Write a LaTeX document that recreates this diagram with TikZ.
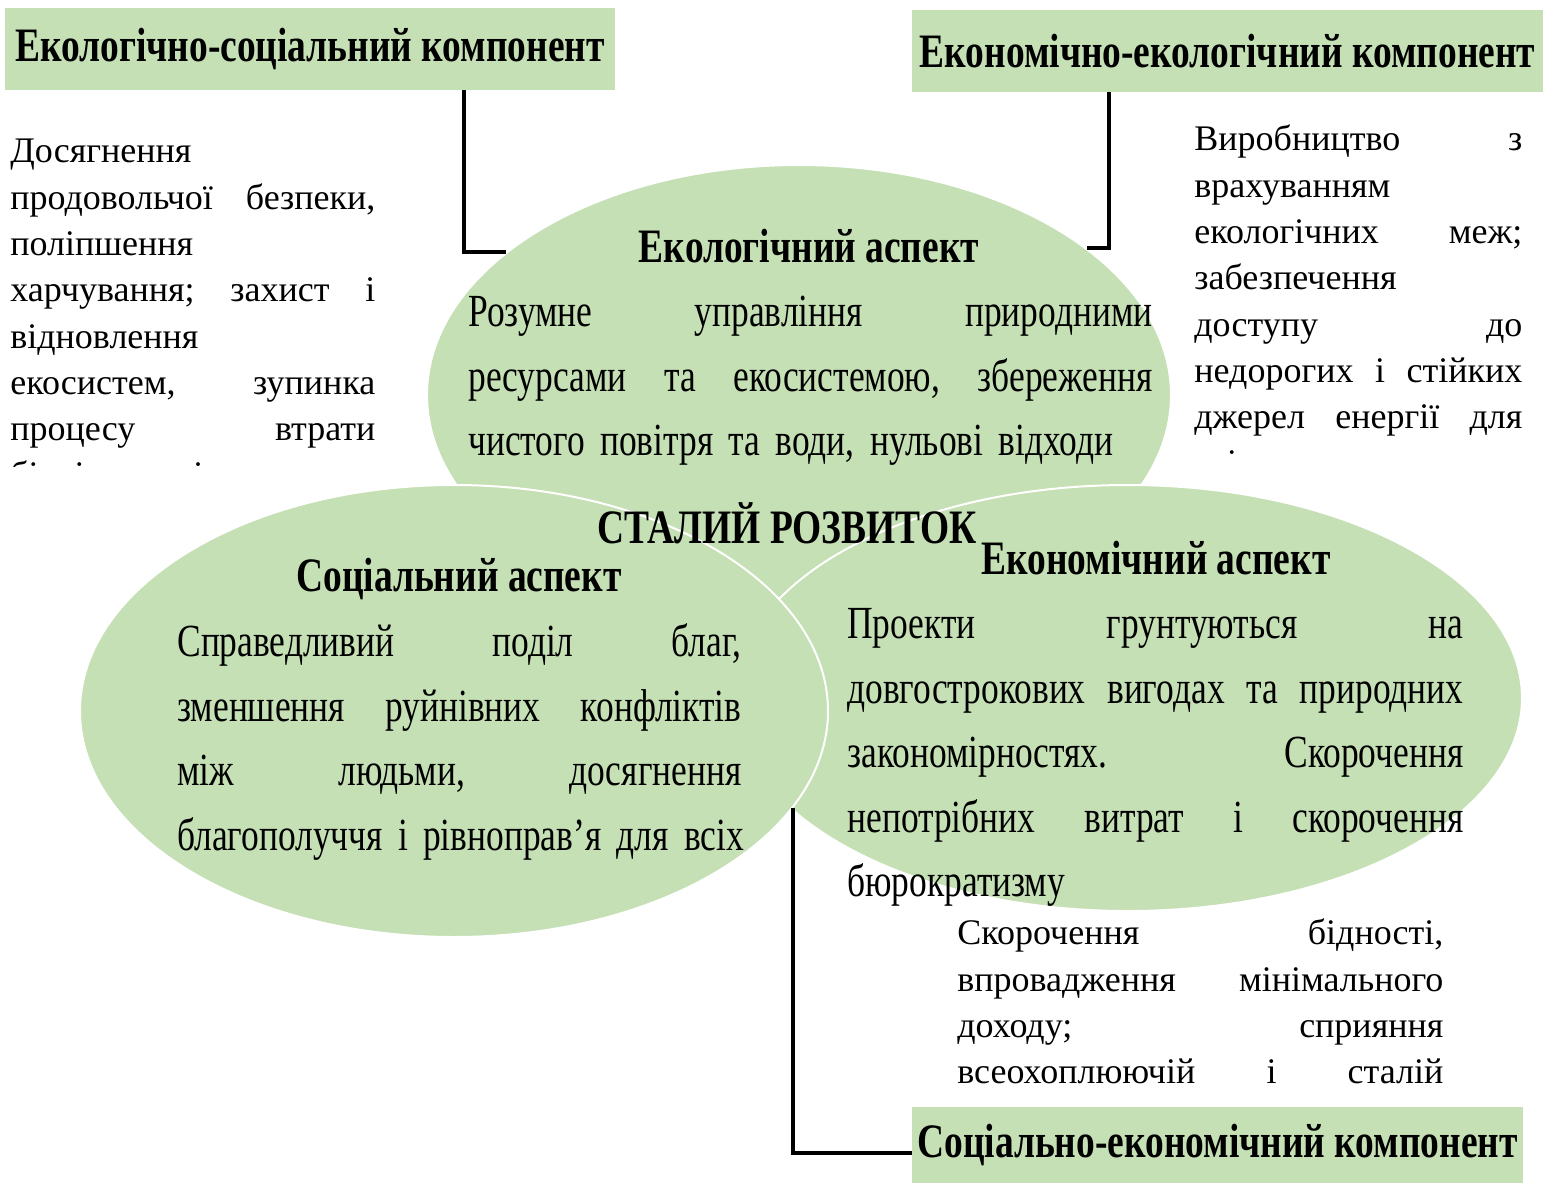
\documentclass[tikz,border=0pt]{standalone}
\usepackage{fontspec}
\setmainfont{Liberation Serif}
\newfontfamily\tallfont[FakeStretch=0.78]{Liberation Serif}
\newfontfamily\bodyfont[FakeStretch=0.77]{Liberation Serif}
\usepackage{tikz}
\usetikzlibrary{shapes.geometric,calc}
\definecolor{leafgreen}{HTML}{C5E0B4}

\begin{document}
\begin{tikzpicture}[
  x=0.5pt, y=-0.5pt,
  blob/.style={ellipse, fill=leafgreen, draw=white, line width=1pt, inner sep=0pt},
  tagbox/.style={fill=leafgreen, inner sep=0pt, font=\tallfont\bfseries\fontsize{24}{28}\selectfont},
  aspect/.style={anchor=base, inner sep=0pt, font=\tallfont\bfseries\fontsize{24}{28}\selectfont},
  body/.style={anchor=north west, inner sep=0pt, align=left, font=\bodyfont\fontsize{23}{32.25}\selectfont},
  note/.style={anchor=north west, inner sep=0pt, align=left, font=\fontsize{18}{23.15}\selectfont},
  link/.style={draw=black, line width=2pt}
]
  \useasboundingbox (0,0) rectangle (1543,1183);

  % Ellipses
  \node[blob, minimum width=372pt, minimum height=230pt] (ecol) at (799,395) {};
  \node[blob, minimum width=394pt, minimum height=213pt] (econ) at (1128,698) {};
  \node[blob, minimum width=374pt, minimum height=226pt] (soc) at (454,711) {};

  % Ellipse texts
  \node[aspect] (ecolhead) at (809,262) {Екологічний аспект};
  \node[body, text width=342pt] (ecoltext) at (468,281) {\strut Розумне \hfill управління \hfill природними\\
    ресурсами \hfill та \hfill екосистемою, \hfill збереження\\
    чистого повітря та води, нульові відходи};
  \node[aspect] (title) at (787,543) {СТАЛИЙ РОЗВИТОК};
  \node[aspect] (sochead) at (459,591) {Соціальний аспект};
  \node[body, text width=282pt] (soctext) at (177,611) {\strut Справедливий \hfill поділ \hfill благ,\\
    зменшення \hfill руйнівних \hfill конфліктів\\
    між \hfill людьми, \hfill досягнення\\
    \makebox[\linewidth][s]{благополуччя і рівноправ’я для всіх}};
  \node[aspect] (econhead) at (1156,574) {Економічний аспект};
  \node[body, text width=308pt] (econtext) at (847,593) {\strut Проекти \hfill грунтуються \hfill на\\
    довгострокових \hfill вигодах \hfill та \hfill природних\\
    закономірностях. \hfill Скорочення\\
    непотрібних \hfill витрат \hfill і \hfill скорочення\\
    бюрократизму};

  % Side notes
  \begin{scope}
    \clip (0,100) rectangle (420,466);
    \node[note, text width=182.5pt] (foodnote) at (10,130) {\strut Досягнення\\
      продовольчої \hfill безпеки,\\
      поліпшення\\
      харчування; \hfill захист \hfill і\\
      відновлення\\
      екосистем, \hfill зупинка\\
      процесу \hfill втрати\\
      біорізноманіття};
  \end{scope}
  \begin{scope}
    \clip (1180,100) rectangle (1543,455);
    \node[note, text width=164pt] (energynote) at (1194,118) {\strut Виробництво \hfill з\\
      врахуванням\\
      екологічних \hfill меж;\\
      забезпечення\\
      доступу \hfill до\\
      недорогих \hfill і \hfill стійких\\
      джерел \hfill енергії \hfill для\\
      всіх};
  \end{scope}
  \node[note, text width=243pt] (povnote) at (957,912) {\strut Скорочення \hfill бідності,\\
    впровадження \hfill мінімального\\
    доходу; \hfill сприяння\\
    всеохоплюючій \hfill і \hfill сталій};

  % Components
  \node[tagbox, minimum width=305pt, minimum height=41pt] (ecosoc) at (310,49) {Екологічно-соціальний компонент};
  \node[tagbox, minimum width=315.5pt, minimum height=41pt] (ecoeco) at (1227.5,51) {Економічно-екологічний компонент};
  \node[tagbox, minimum width=305.5pt, minimum height=38pt] (socec) at (1217.5,1145) {Соціально-економічний компонент};

  % Links
  \draw[link] ($(ecosoc.south west)!0.752!(ecosoc.south east)$) |- (ecol.154);
  \draw[link] ($(ecoeco.south west)!0.312!(ecoeco.south east)$) |- (ecol.27);
  \draw[link] (soc.-16) |- ([yshift=-4pt]socec.west);
\end{tikzpicture}
\end{document}
